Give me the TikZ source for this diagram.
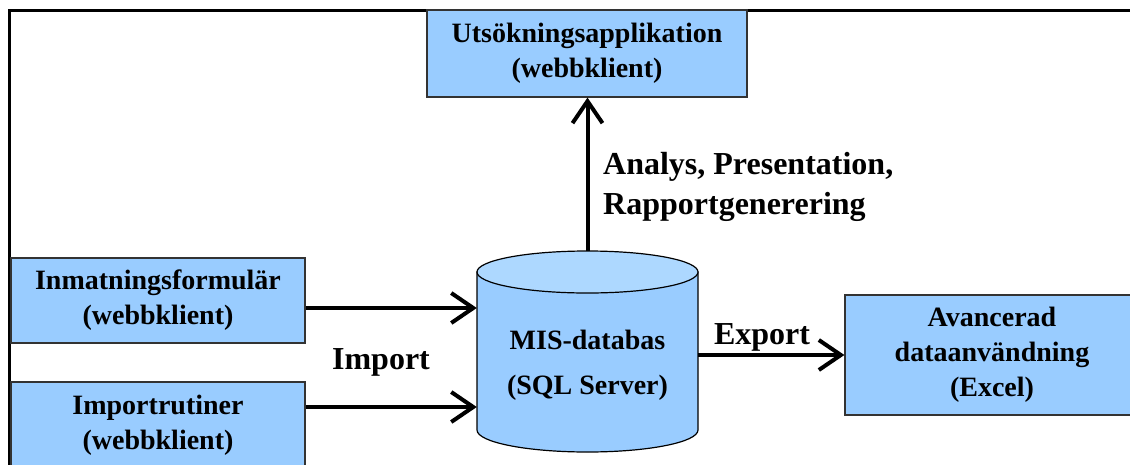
\documentclass[tikz,border=0pt]{standalone}
\usepackage{fontspec}
\setmainfont{Liberation Serif}
\usetikzlibrary{arrows.meta,calc}
\definecolor{boxblue}{HTML}{99CCFF}
\definecolor{topblue}{HTML}{ADD8FF}
\begin{document}
\begin{tikzpicture}[x=1pt,y=-1pt,
  box/.style={draw=black!80, line width=1.2pt, fill=boxblue, font=\fontsize{28}{35}\selectfont\bfseries, align=center, inner sep=0pt},
  arr/.style={line width=4pt, -{Straight Barb[length=22pt,width=30pt]}},
  lbl/.style={font=\fontsize{32}{40}\selectfont\bfseries, align=left, inner sep=0pt},
  frame/.style={line width=3pt}]
\useasboundingbox (0,0) rectangle (1130,464);
\draw[frame] (9.5,480) -- (9.5,10) -- (1145,10);
% boxes
\node[box, minimum width=320pt, minimum height=87pt] (uts) at (587,53.5) {Utsökningsapplikation\\(webbklient)};
\node[box, minimum width=294pt, minimum height=85pt] (inm) at (158,300.5) {Inmatningsformulär\\(webbklient)};
\node[box, minimum width=294pt, minimum height=86pt] (imp) at (158,425) {Importrutiner\\(webbklient)};
\node[box, minimum width=294pt, minimum height=120pt] (av) at (992,355) {Avancerad\\dataanvändning\\(Excel)};
% cylinder
\path[fill=boxblue, draw=black, line width=1.2pt] (477,272) -- (477,430) arc[start angle=180, end angle=360, x radius=110.5pt, y radius=22pt] -- (698,272) -- cycle;
\path[fill=topblue, draw=black, line width=1.2pt] (587.5,272) ellipse [x radius=110.5pt, y radius=21pt];
\node[inner sep=0pt, minimum width=221pt, minimum height=201pt] (db) at (587.5,351.5) {};
\node[font=\fontsize{28}{45}\selectfont\bfseries, align=center, inner sep=0pt] (dbtext) at (587.5,365) {MIS-databas\\(SQL Server)};
% connectors
\draw[arr] ($(inm.east)+(0,7.5)$) -- ($(inm.east -| db.west)+(0,7.5)$);
\draw[arr] ($(imp.east)+(0,-18)$) -- ($(imp.east -| db.west)+(0,-18)$);
\draw[arr] (db.north) -- (db.north |- uts.south);
\draw[arr] (db.east |- av.west) -- (av.west);
% labels
\node[lbl, anchor=west] (lab1) at (603,187) {Analys, Presentation,\\Rapportgenerering};
\node[lbl] (implbl) at (381,362) {Import};
\node[lbl] (explbl) at (762,337) {Export};
\end{tikzpicture}
\end{document}
